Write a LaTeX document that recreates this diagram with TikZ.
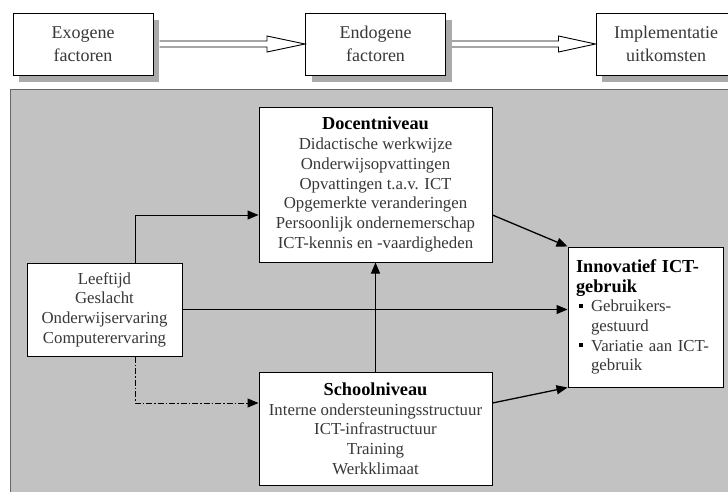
\documentclass[tikz,border=0pt]{standalone}
\usepackage{fontspec}
\setmainfont{Liberation Serif}
\usetikzlibrary{calc,arrows.meta,shadows}
\definecolor{panelgray}{HTML}{C2C2C2}
\definecolor{panelline}{HTML}{666666}
\definecolor{shadowgray}{HTML}{AAAAAA}
\definecolor{bodytext}{HTML}{383838}
\newcommand{\hd}[1]{{\color{black}\fontsize{18.3}{19.7}\selectfont\bfseries #1}}
\newcommand{\bul}{\makebox[15pt][l]{\hspace{3pt}{\color{black}\rule[0.22em]{4pt}{4pt}}}}
\tikzset{
 topbox/.style={draw=black, line width=1pt, fill=white, minimum width=140pt, minimum height=62pt,
   align=center, text=bodytext, font=\fontsize{18}{23}\selectfont, inner sep=0pt,
   drop shadow={shadow xshift=6pt, shadow yshift=-7pt, fill=shadowgray, opacity=1}},
 panelbox/.style={draw=black, line width=1pt, fill=white, align=center, text=bodytext,
   font=\fontsize{16.8}{19.7}\selectfont, inner sep=0pt},
 hollow/.style={draw=black, line width=0.9pt, line join=miter},
 flow/.style={draw=black, line width=1.3pt, -{Triangle[length=11pt,width=9pt]}},
 dashflow/.style={flow, line width=1pt, dash pattern=on 6pt off 2pt on 1.5pt off 2pt}
}
\begin{document}
\begin{tikzpicture}[x=1pt,y=-1pt]
\useasboundingbox (0,0) rectangle (728,491);
\clip (0,0) rectangle (728,491);
% panel
\filldraw[fill=panelgray, draw=panelline, line width=1.5pt] (10.5,89.5) rectangle (745,505);
% top row
\node[topbox] (exo) at (83,44) {Exogene\\factoren};
\node[topbox] (endo) at (375.5,44) {Endogene\\factoren};
\node[topbox] (impl) at (666,44) {Implementatie\\uitkomsten};
\draw[hollow] ($(exo.east)+(6,-3)$) -- ($(endo.west)+(-38,-3)$) -- ($(endo.west)+(-38,-8)$)
  -- (endo.west) -- ($(endo.west)+(-38,8)$) -- ($(endo.west)+(-38,3)$) -- ($(exo.east)+(6,3)$);
\draw[hollow] ($(endo.east)+(6,-3)$) -- ($(impl.west)+(-37,-3)$) -- ($(impl.west)+(-37,-8)$)
  -- (impl.west) -- ($(impl.west)+(-37,8)$) -- ($(impl.west)+(-37,3)$) -- ($(endo.east)+(6,3)$);
% panel boxes
\node[panelbox, minimum width=233pt, minimum height=155pt] (doc) at (375.5,184.5)
  {\hd{Docentniveau}\\Didactische werkwijze\\Onderwijsopvattingen\\Opvattingen t.a.v. ICT\\Opgemerkte veranderingen\\Persoonlijk ondernemerschap\\ICT-kennis en -vaardigheden};
\node[panelbox, minimum width=155pt, minimum height=93pt] (lee) at (104.5,309.5)
  {Leeftijd\\Geslacht\\Onderwijservaring\\Computerervaring};
\node[panelbox, minimum width=233pt, minimum height=113pt] (sch) at (375.5,428.5)
  {\hd{Schoolniveau}\\Interne ondersteuningsstructuur\\ICT-infrastructuur\\Training\\Werkklimaat};
\node[panelbox, minimum width=155pt, minimum height=140pt, text width=139pt, align=left] (inn) at (645.5,317)
  {\hd{Innovatief ICT-}\\\hd{gebruik}\\\bul Gebruikers-\\\hspace*{15pt}gestuurd\\\bul Variatie aan ICT-\\\hspace*{15pt}gebruik};
% connectors
\draw[flow, line width=1pt] ($(lee.north)+(30.5,0)$) |- ($(doc.west)+(0,30.5)$);
\draw[flow] (lee.east) -- (lee.east -| inn.west);
\draw[dashflow] ($(lee.south)+(30.5,0)$) |- ($(sch.west)+(0,-25.5)$);
\draw[flow, line width=1pt] (sch.north) -- (doc.south);
\draw[flow] ($(doc.east)+(0,30.5)$) -- (inn.north west);
\draw[flow] ($(sch.east)+(0,-25.5)$) -- (inn.south west);
\end{tikzpicture}
\end{document}
